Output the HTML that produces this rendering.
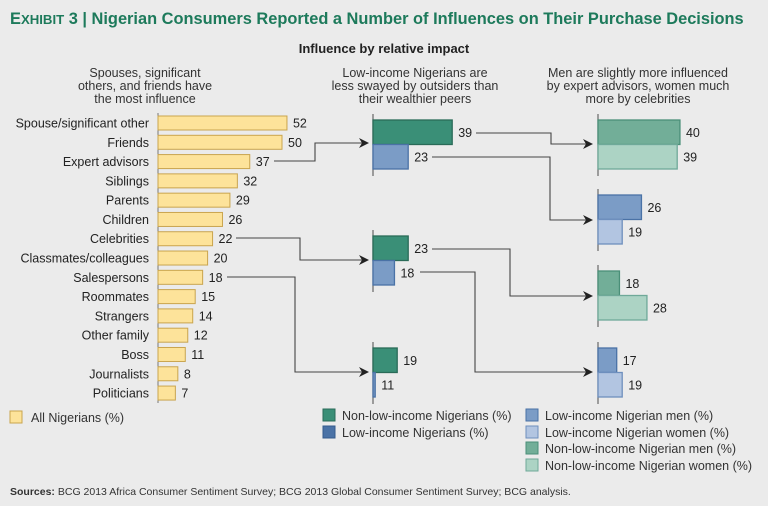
<!DOCTYPE html>
<html><head><meta charset="utf-8"><style>
body{margin:0;background:#ebebeb;}
svg{display:block;font-family:"Liberation Sans Narrow","Liberation Sans",sans-serif;}
</style></head><body>
<svg id="chart" width="768" height="506" viewBox="0 0 768 506" xmlns="http://www.w3.org/2000/svg">
<rect width="768" height="506" fill="#ebebeb"/>
<defs><marker id="ah" markerWidth="10" markerHeight="10" refX="9" refY="5" orient="auto" markerUnits="userSpaceOnUse"><path d="M0,0 L10,5 L0,10 L3,5 Z" fill="#222"/></marker></defs>
<text x="10" y="24" font-family="Liberation Sans, sans-serif" font-weight="bold" font-size="16.4" fill="#1d7a5b">E<tspan font-size="13.2">XHIBIT</tspan> 3 | Nigerian Consumers Reported a Number of Influences on Their Purchase Decisions</text>
<text x="384" y="53" text-anchor="middle" font-family="Liberation Sans, sans-serif" font-weight="bold" font-size="13" fill="#222">Influence by relative impact</text>
<g font-size="12.5" fill="#333" text-anchor="middle">
<text x="145" y="77">Spouses, significant</text><text x="145" y="90">others, and friends have</text><text x="145" y="103">the most influence</text>
<text x="415" y="77">Low-income Nigerians are</text><text x="415" y="90">less swayed by outsiders than</text><text x="415" y="103">their wealthier peers</text>
<text x="638" y="77">Men are slightly more influenced</text><text x="638" y="90">by expert advisors, women much</text><text x="638" y="103">more by celebrities</text>
</g>
<g id="left"></g>
<g id="mid"></g>
<g id="right"></g>
<g fill="none" stroke="#444" stroke-width="1.1">
<polyline points="274,161 315,161 315,143 368,143" marker-end="url(#ah)"/>
<polyline points="236,238 300,238 300,260 368,260" marker-end="url(#ah)"/>
<polyline points="227,277 295,277 295,372 368,372" marker-end="url(#ah)"/>
<polyline points="476,133 551,133 551,144 592,144" marker-end="url(#ah)"/>
<polyline points="432,157 550,157 550,220 592,220" marker-end="url(#ah)"/>
<polyline points="432,249 510,249 510,296 592,296" marker-end="url(#ah)"/>
<polyline points="420,272 475,272 475,372 592,372" marker-end="url(#ah)"/>
</g>
<g font-size="12.5" fill="#333">
<rect x="10" y="411" width="12" height="12" fill="#fde39a" stroke="#c9a44e"/><text x="31" y="422">All Nigerians (%)</text>
<rect x="323" y="409" width="12" height="12" fill="#3a8f77" stroke="#2a6b58"/><text x="342" y="420">Non-low-income Nigerians (%)</text>
<rect x="323" y="426" width="12" height="12" fill="#4a72a6" stroke="#345b8c"/><text x="342" y="437">Low-income Nigerians (%)</text>
<rect x="526" y="409" width="12" height="12" fill="#7b9cc6" stroke="#4a72a6"/><text x="545" y="420">Low-income Nigerian men (%)</text>
<rect x="526" y="426" width="12" height="12" fill="#b2c5e1" stroke="#6e8fbd"/><text x="545" y="437">Low-income Nigerian women (%)</text>
<rect x="526" y="442" width="12" height="12" fill="#72ae98" stroke="#4a8f78"/><text x="545" y="453">Non-low-income Nigerian men (%)</text>
<rect x="526" y="459" width="12" height="12" fill="#acd3c4" stroke="#6fa999"/><text x="545" y="470">Non-low-income Nigerian women (%)</text>
</g>
<text x="10" y="495" font-size="10.5" fill="#333"><tspan font-weight="bold">Sources:</tspan> BCG 2013 Africa Consumer Sentiment Survey; BCG 2013 Global Consumer Sentiment Survey; BCG analysis.</text>
</svg>
<script>
const categories=["Spouse/significant other","Friends","Expert advisors","Siblings","Parents","Children","Celebrities","Classmates/colleagues","Salespersons","Roommates","Strangers","Other family","Boss","Journalists","Politicians"];
const allValues=[52,50,37,32,29,26,22,20,18,15,14,12,11,8,7];
const midGroups=["Expert advisors","Celebrities","Salespersons"];
const nonLowIncome=[39,23,19];
const lowIncome=[23,18,11];
const rightGroups=["Expert advisors low-income","Expert advisors non-low-income","Celebrities non-low-income","Celebrities low-income"];
const rightTop=[40,26,18,17];
const rightBottom=[39,19,28,19];
const rightTopKind=["nlm","lm","nlm","lm"];
const rightBotKind=["nlw","lw","nlw","lw"];
const NS="http://www.w3.org/2000/svg";
function mk(p,t,a){const e=document.createElementNS(NS,t);for(const k in a)e.setAttribute(k,a[k]);p.appendChild(e);return e;}
const xl=v=>v*2.48, yl=i=>123+i*19.29;
const L=document.getElementById('left');
mk(L,'line',{x1:158,y1:113,x2:158,y2:403,stroke:'#777','stroke-width':1});
categories.forEach((c,i)=>{const y=yl(i);
 const t=mk(L,'text',{x:149,y:y+4.5,'text-anchor':'end','font-size':12.5,fill:'#222'});t.textContent=c;
 
 
 const r=mk(L,'rect',{x:158,y:y-7,width:xl(allValues[i]),height:14,fill:'#fde39a',stroke:'#c9a44e','stroke-width':1});
 
 
 const v=mk(L,'text',{x:158+xl(allValues[i])+6,y:y+4.5,'font-size':12.5,fill:'#222'});v.textContent=allValues[i];
 
 
});
const xs=v=>Math.max(2,2.75*(v-10.2));
const col={nl:['#3a8f77','#2a6b58'],l:['#7b9cc6','#4a72a6'],nlm:['#72ae98','#4a8f78'],nlw:['#acd3c4','#6fa999'],lm:['#7b9cc6','#4a72a6'],lw:['#b2c5e1','#6e8fbd']};
function pair(g,x0,top,a,b,ka,kb,name){
 mk(g,'line',{x1:x0,y1:top-6,x2:x0,y2:top+56,stroke:'#666','stroke-width':1.2});
 [[a,ka,0],[b,kb,24.5]].forEach(([v,k,o],j)=>{
  const r=mk(g,'rect',{x:x0,y:top+o,width:xs(v),height:24.5,fill:col[k][0],stroke:col[k][1],'stroke-width':1.3});
  
  
  const t=mk(g,'text',{x:x0+xs(v)+6,y:top+o+17,'font-size':12.5,fill:'#222'});t.textContent=v;
  
  
 });
}
const M=document.getElementById('mid'), midTops=[120,236,348];
midGroups.forEach((g,i)=>pair(M,373,midTops[i],nonLowIncome[i],lowIncome[i],'nl','l','mid-'+i));
const R=document.getElementById('right'), rTops=[120,195,271,348];
rightGroups.forEach((g,i)=>pair(R,598,rTops[i],rightTop[i],rightBottom[i],rightTopKind[i],rightBotKind[i],'right-'+i));
</script>
</body></html>
